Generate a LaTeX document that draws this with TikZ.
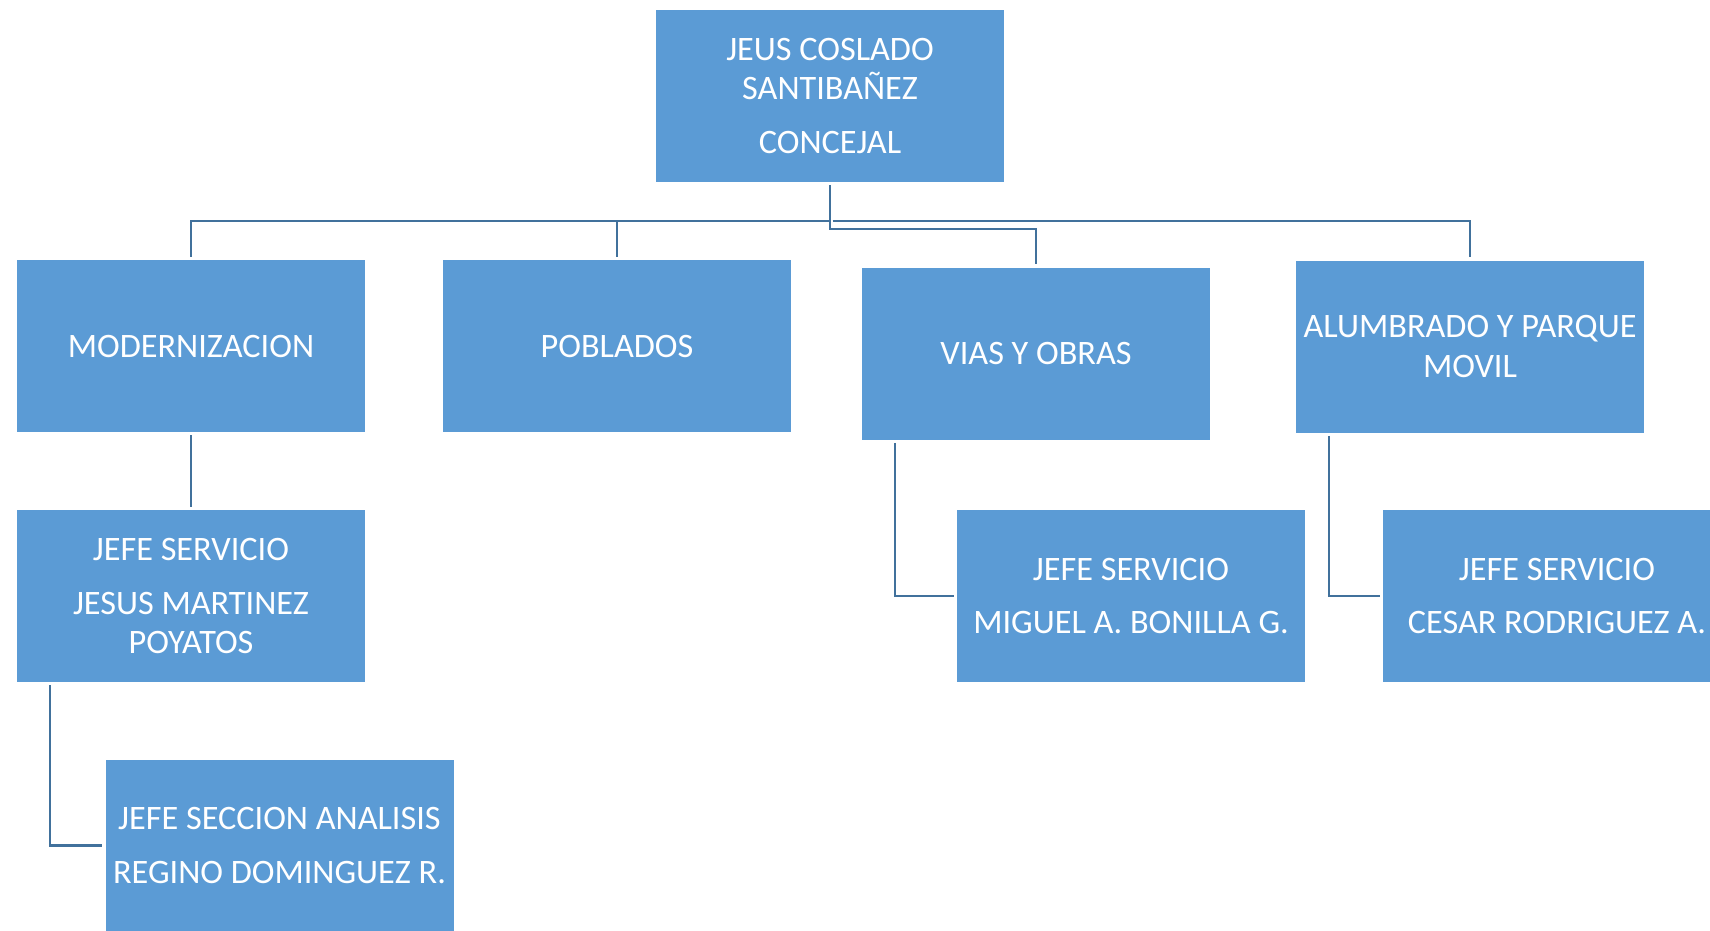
\documentclass[tikz,border=0pt]{standalone}
\usepackage{fontspec}
\setmainfont{Carlito}
\definecolor{cajaazul}{HTML}{5B9BD5}
\definecolor{lineaazul}{HTML}{41719C}

\begin{document}
\begin{tikzpicture}[x=0.02cm, y=-0.02cm,
	cargo/.style={fill=cajaazul, draw=white, line width=0.4pt, minimum width=6.98cm, minimum height=3.46cm,
		text=white, align=center, inner sep=0pt, font=\fontsize{19.5}{22.5}\selectfont},
	linea/.style={draw=lineaazul, line width=1.4pt, shorten <=1.5pt, shorten >=1.5pt}]
	\useasboundingbox (0,0) rectangle (1710,930);
	\clip (0,0) rectangle (1710,930);

	\node [cargo] (concejal) at (830,96) {JEUS COSLADO\\SANTIBAÑEZ\\[8pt]CONCEJAL};

	\node [cargo] (modern) at (191,346) {MODERNIZACION};
	\node [cargo] (poblados) at (617,346) {POBLADOS};
	\node [cargo] (vias) at (1036,353.5) {VIAS Y OBRAS};
	\node [cargo] (alumbrado) at (1470,346.5) {ALUMBRADO Y PARQUE\\MOVIL};

	\node [cargo] (jesus) at (191,596) {JEFE SERVICIO\\[8pt]JESUS MARTINEZ\\POYATOS};
	\node [cargo] (miguel) at (1131,596) {JEFE SERVICIO\\[8pt]MIGUEL A. BONILLA G.};
	\node [cargo] (cesar) at (1557,596) {JEFE SERVICIO\\[8pt]CESAR RODRIGUEZ A.};
	\node [cargo] (regino) at (279.5,845.5) {JEFE SECCION ANALISIS\\[8pt]REGINO DOMINGUEZ R.};

	\coordinate (barra) at (830,221);
	\coordinate (barra2) at (830,229);

	\draw [linea] (concejal.south) -- (barra) -| (modern.north);
	\draw [linea] (barra) -| (poblados.north);
	\draw [linea] (barra) -| (alumbrado.north);
	\draw [linea] (concejal.south) -- (barra2) -| (vias.north);

	\draw [linea] (modern.south) -- (jesus.north);
	\draw [linea] ([xshift=0.68cm]jesus.south west) |- (regino.west);
	\draw [linea] ([xshift=0.68cm]vias.south west) |- (miguel.west);
	\draw [linea] ([xshift=0.68cm]alumbrado.south west) |- (cesar.west);
\end{tikzpicture}
\end{document}
